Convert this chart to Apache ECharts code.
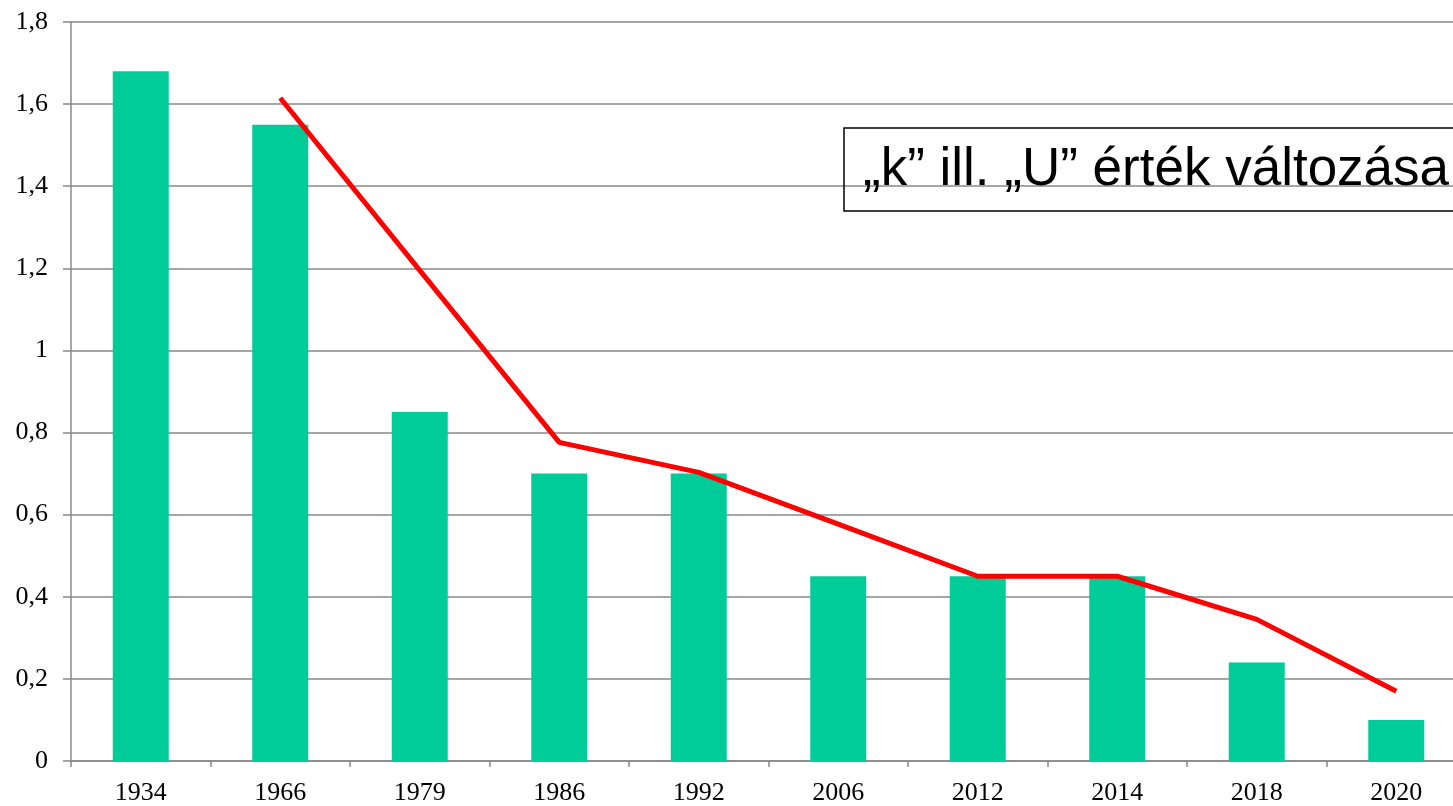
<!DOCTYPE html>
<html><head><meta charset="utf-8">
<script src="https://cdn.jsdelivr.net/npm/echarts@6/dist/echarts.min.js"></script>
<style>html,body{margin:0;padding:0;background:#fff;overflow:hidden;width:1453px;height:806px}#c{width:1466px;height:806px}</style>
</head><body><div id="c"></div>
<script>
const categories = ['1934','1966','1979','1986','1992','2006','2012','2014','2018','2020'];
const kValues = [1.68, 1.55, 0.85, 0.70, 0.70, 0.45, 0.45, 0.45, 0.24, 0.10];
const uValues = [null, 1.615, 1.195, 0.776, 0.703, 0.577, 0.45, 0.45, 0.345, 0.17];
const titleText = '„k” ill. „U” érték változása';

const chart = echarts.init(document.getElementById('c'));
chart.setOption({
  animation: false,
  backgroundColor: '#fff',
  title: {
    text: titleText,
    left: 844, top: 128,
    padding: [16, 40, 14, 19],
    borderColor: '#000', borderWidth: 1.5,
    textStyle: {fontFamily: 'Liberation Sans, Arial', fontSize: 53, lineHeight: 53, fontWeight: 'normal', color: '#000'}
  },
  grid: {left: 71, top: 22, right: 0, bottom: 44, containLabel: false},
  xAxis: {
    type: 'category', data: categories,
    axisLine: {lineStyle: {color: '#888', width: 1.5}},
    axisTick: {show: true, length: 6, lineStyle: {color: '#888', width: 1.5}},
    axisLabel: {fontFamily: 'Liberation Serif, Times New Roman', fontSize: 26, color: '#000', margin: 19}
  },
  yAxis: {
    type: 'value', min: 0, max: 1.8, interval: 0.2,
    axisLine: {show: true, lineStyle: {color: '#888', width: 1.5}},
    axisTick: {show: true, length: 8, lineStyle: {color: '#888', width: 1.5}},
    splitLine: {lineStyle: {color: '#888', width: 1.5}},
    axisLabel: {fontFamily: 'Liberation Serif, Times New Roman', fontSize: 26, color: '#000', margin: 23,
      formatter: v => String(Math.round(v*10)/10).replace('.', ',')}
  },
  series: [
    {type: 'bar', data: kValues, barWidth: 56, itemStyle: {color: '#00CC99'}},
    {type: 'line', data: uValues, symbol: 'none', connectNulls: false,
      lineStyle: {color: '#FF0000', width: 5}, z: 5}
  ]
});
</script></body></html>
